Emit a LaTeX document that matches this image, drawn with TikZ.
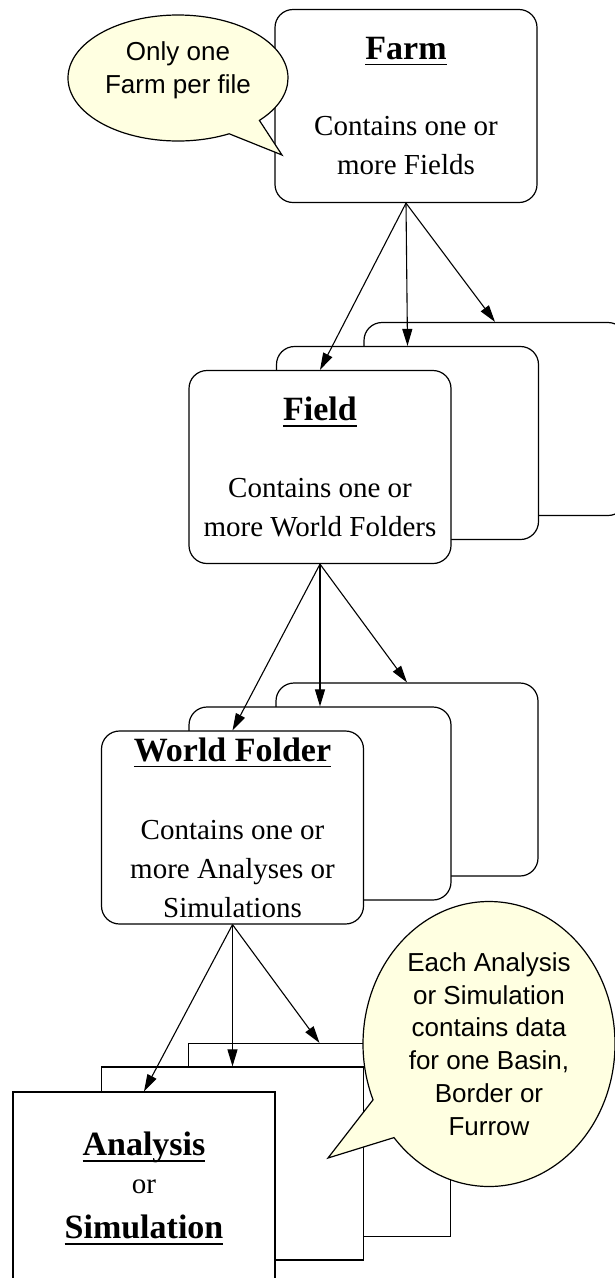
\documentclass[tikz,border=0pt]{standalone}
\usepackage{fontspec}
\setmainfont{Liberation Serif}
\newfontfamily\calloutfamily{Liberation Sans}
\usetikzlibrary{shapes.callouts,arrows.meta}
\definecolor{tipyellow}{RGB}{255,255,225}
\newcommand\bodyfont{\fontsize{29}{39}\selectfont}
\newcommand\ttlfont{\fontsize{34}{39}\selectfont\bfseries}
\newcommand\calfont{\calloutfamily\fontsize{26}{32.8}\selectfont}
\newcommand\ulin[1]{\setbox0\hbox{#1}\rlap{\rule[-6pt]{\wd0}{1.5pt}}\box0}
\begin{document}
\begin{tikzpicture}[x=1pt,y=-1pt,
  rbox/.style={draw, line width=1.2pt, fill=white, rounded corners=18pt,
    minimum width=262pt, minimum height=193pt, inner sep=0pt, align=center, font=\bodyfont},
  sbox/.style={rbox, sharp corners},
  link/.style={line width=1.1pt, -{Triangle[length=17pt,width=10pt]}},
  bubble/.style={ellipse callout, draw, line width=1.2pt, fill=tipyellow, inner sep=0pt},
  bubbletext/.style={align=center, font=\calfont, inner sep=0pt}]
\useasboundingbox (0,0) rectangle (615,1278);
\clip (0,0) rectangle (615,1278);

% Farm
\node[rbox] (farm) at (406,106) {{\ttlfont\ulin{Farm}}\\[37pt]Contains one or\\more Fields};
\node[bubble, minimum width=220pt, minimum height=126pt,
  callout absolute pointer={(282,155)}, callout pointer arc=20] (note1) at (178,78) {};
\node[bubbletext] (note1text) at (178,70) {Only one\\Farm per file};

% Fields
\node[rbox] (field3) at (495,419) {};
\node[rbox] (field2) at (407.5,443) {};
\node[rbox] (field) at (320,467) {{\ttlfont\ulin{Field}}\\[38pt]Contains one or\\more World Folders};

% World folders
\node[rbox] (world3) at (407,779.5) {};
\node[rbox] (world2) at (320,803.5) {};
\node[rbox] (world) at (232.5,827.5) {{\ttlfont\ulin{World Folder}}\\[39pt]Contains one or\\more Analyses or\\Simulations};

% Analyses / simulations
\node[sbox] (sim3) at (319.5,1140) {};
\node[sbox] (sim2) at (232.5,1163.5) {};
\node[sbox] (sim) at (144,1188.5) {{\ttlfont\ulin{Analysis}}\\[-1pt]or\\[6pt]{\ttlfont\ulin{Simulation}}};

\node[bubble, minimum width=252pt, minimum height=285pt,
  callout absolute pointer={(328,1158)}, callout pointer arc=18,
  font=\calfont, align=center] (note2) at (489,1044)
  {Each Analysis\\or Simulation\\contains data\\for one Basin,\\Border or\\Furrow};

% connectors
\foreach \c in {field,field2,field3} \draw[link] (farm.south) -- (\c.north);
\foreach \c in {world,world2,world3} \draw[link] (field.south) -- (\c.north);
\foreach \c in {sim,sim2,sim3} \draw[link] (world.south) -- (\c.north);
\end{tikzpicture}
\end{document}
